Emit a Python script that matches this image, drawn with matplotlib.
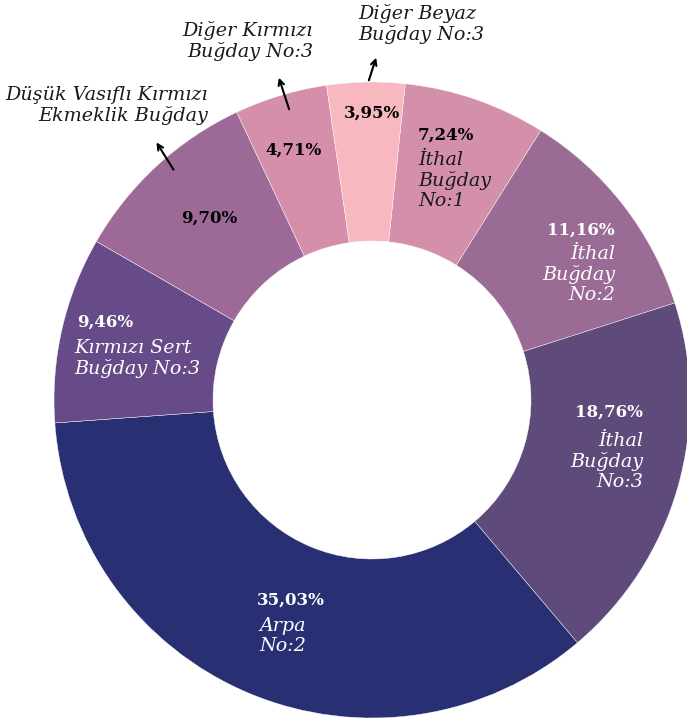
import matplotlib
matplotlib.use("Agg")
import matplotlib.pyplot as plt

# ======================================
# DATA
# ======================================

categories = [
    "İthal\nBuğday\nNo:1",
    "İthal\nBuğday\nNo:2",
    "İthal\nBuğday\nNo:3",
    "Arpa\nNo:2",
    "Kırmızı Sert\nBuğday No:3",
    "Düşük Vasıflı Kırmızı\nEkmeklik Buğday",
    "Diğer Kırmızı\nBuğday No:3",
    "Diğer Beyaz\nBuğday No:3",
]
values = [7.24, 11.16, 18.76, 35.03, 9.46, 9.70, 4.71, 3.95]
pct_labels = ["7,24%", "11,16%", "18,76%", "35,03%", "9,46%", "9,70%", "4,71%", "3,95%"]

colors = ["#d490aa", "#9a6b94", "#5f4a7c", "#283073",
          "#674a88", "#9d6a98", "#d58fab", "#f8b8c0"]

# ======================================
# FIGURE
# ======================================

W, H = 687, 722
fig = plt.figure(figsize=(W / 100, H / 100), dpi=100)
ax = fig.add_axes([0, 0, 1, 1])

cx, cy = 372, H - 400
R = 318

ax.pie(
    values,
    colors=colors,
    startangle=84,
    counterclock=False,
    radius=R,
    center=(cx, cy),
    wedgeprops=dict(width=R * 0.5, edgecolor="white", linewidth=0.3),
    frame=True,
)
ax.set_xlim(0, W)
ax.set_ylim(0, H)
ax.set_aspect("equal")
ax.axis("off")

SERIF = "DejaVu Serif"
PCT_SIZE = 12
LBL_SIZE = 13.8
OFF = 11  # from first line centre to text top


def y(v):
    return H - v


# percentages: (x, y, ha, color)
pct_pos = [
    (446, 135, "center", "black"),
    (615, 230, "right", "white"),
    (643, 412, "right", "white"),
    (291, 600, "center", "white"),
    (105, 322, "center", "white"),
    (209, 218, "center", "black"),
    (293, 150, "center", "black"),
    (372, 113, "center", "black"),
]
for txt, (px, py, ha, c) in zip(pct_labels, pct_pos):
    ax.text(px, y(py), txt, ha=ha, va="center", color=c,
            fontsize=PCT_SIZE, fontweight="bold", family=SERIF)

# labels inside slices
inner = [
    (0, 418, 162, "left", "#1a1a1a"),
    (1, 615, 256, "right", "white"),
    (2, 643, 443, "right", "white"),
    (3, 259, 628, "left", "white"),
    (4, 74, 350, "left", "white"),
]
for i, px, py, ha, c in inner:
    ax.text(px, y(py - OFF), categories[i], ha=ha, va="top", color=c,
            fontsize=LBL_SIZE, fontstyle="italic", family=SERIF,
            linespacing=1.15)

# labels outside with arrows
outer = [
    (7, 358, 15, "left", (368, 83), (377, 55)),
    (6, 313, 32, "right", (290, 112), (278, 75)),
    (5, 208, 97, "right", (175, 172), (155, 140)),
]
for i, px, py, ha, start, end in outer:
    ax.text(px, y(py - OFF), categories[i], ha=ha, va="top", color="#1a1a1a",
            fontsize=LBL_SIZE, fontstyle="italic", family=SERIF,
            linespacing=1.15)
    ax.annotate("", xy=(end[0], y(end[1])), xytext=(start[0], y(start[1])),
                arrowprops=dict(arrowstyle="->", color="black", lw=1.5))

fig.savefig("out.png", dpi=100)
